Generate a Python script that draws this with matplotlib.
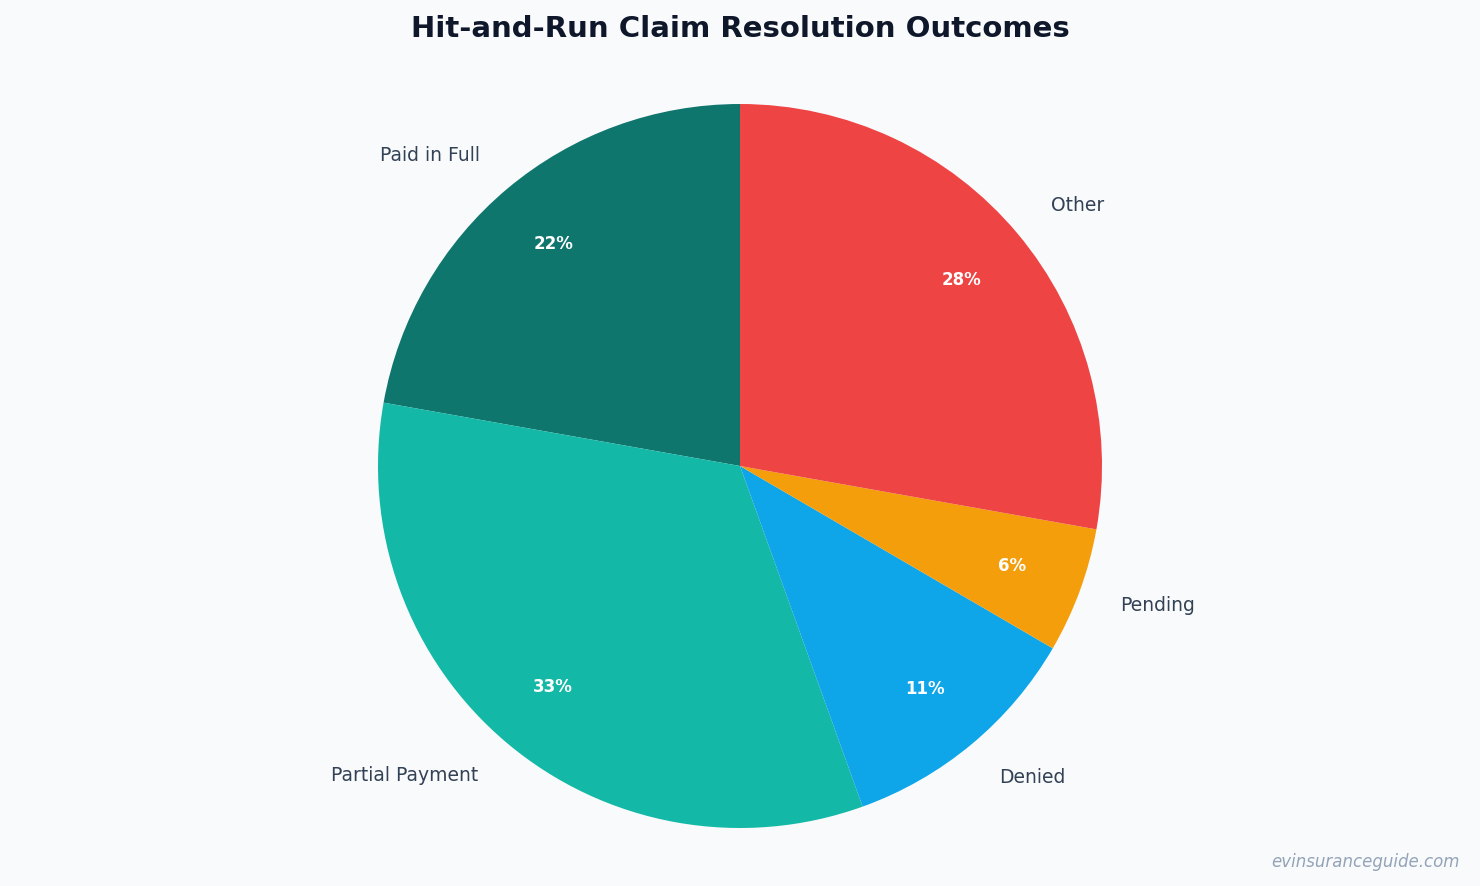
import matplotlib.pyplot as plt

categories = ["Paid in Full", "Partial Payment", "Denied", "Pending", "Other"]
shares = [22.2, 33.3, 11.1, 5.6, 27.8]
colors = ["#0f766e", "#14b8a6", "#0ea5e9", "#f59e0b", "#ef4444"]

bg = "#f8fafc"
fig = plt.figure(figsize=(14.8, 8.86), dpi=100, facecolor=bg)
# axes box sized so the pie (radius 1) fills it
ax = fig.add_axes([378 / 1480, 58 / 886, 724 / 1480, 724 / 886])
ax.set_facecolor(bg)

wedges, texts, autotexts = ax.pie(
    shares,
    labels=categories,
    colors=colors,
    startangle=90,
    counterclock=True,
    autopct="%1.0f%%",
    pctdistance=0.8,
    labeldistance=1.12,
    radius=1,
    textprops={"fontsize": 13.5, "color": "#334155"},
)
for t in autotexts:
    t.set_color("white")
    t.set_fontweight("bold")
    t.set_fontsize(12)

ax.set_xlim(-1, 1)
ax.set_ylim(-1, 1)
ax.set_aspect("equal")
ax.axis("off")

fig.text(0.5, 0.967, "Hit-and-Run Claim Resolution Outcomes", ha="center", va="center",
         fontsize=21, fontweight="bold", color="#0f172a")
fig.text(1460 / 1480, 1 - 862 / 886, "evinsuranceguide.com", ha="right", va="center",
         fontsize=12, style="italic", color="#94a3b8")

fig.savefig("out.png", dpi=100, facecolor=bg)
